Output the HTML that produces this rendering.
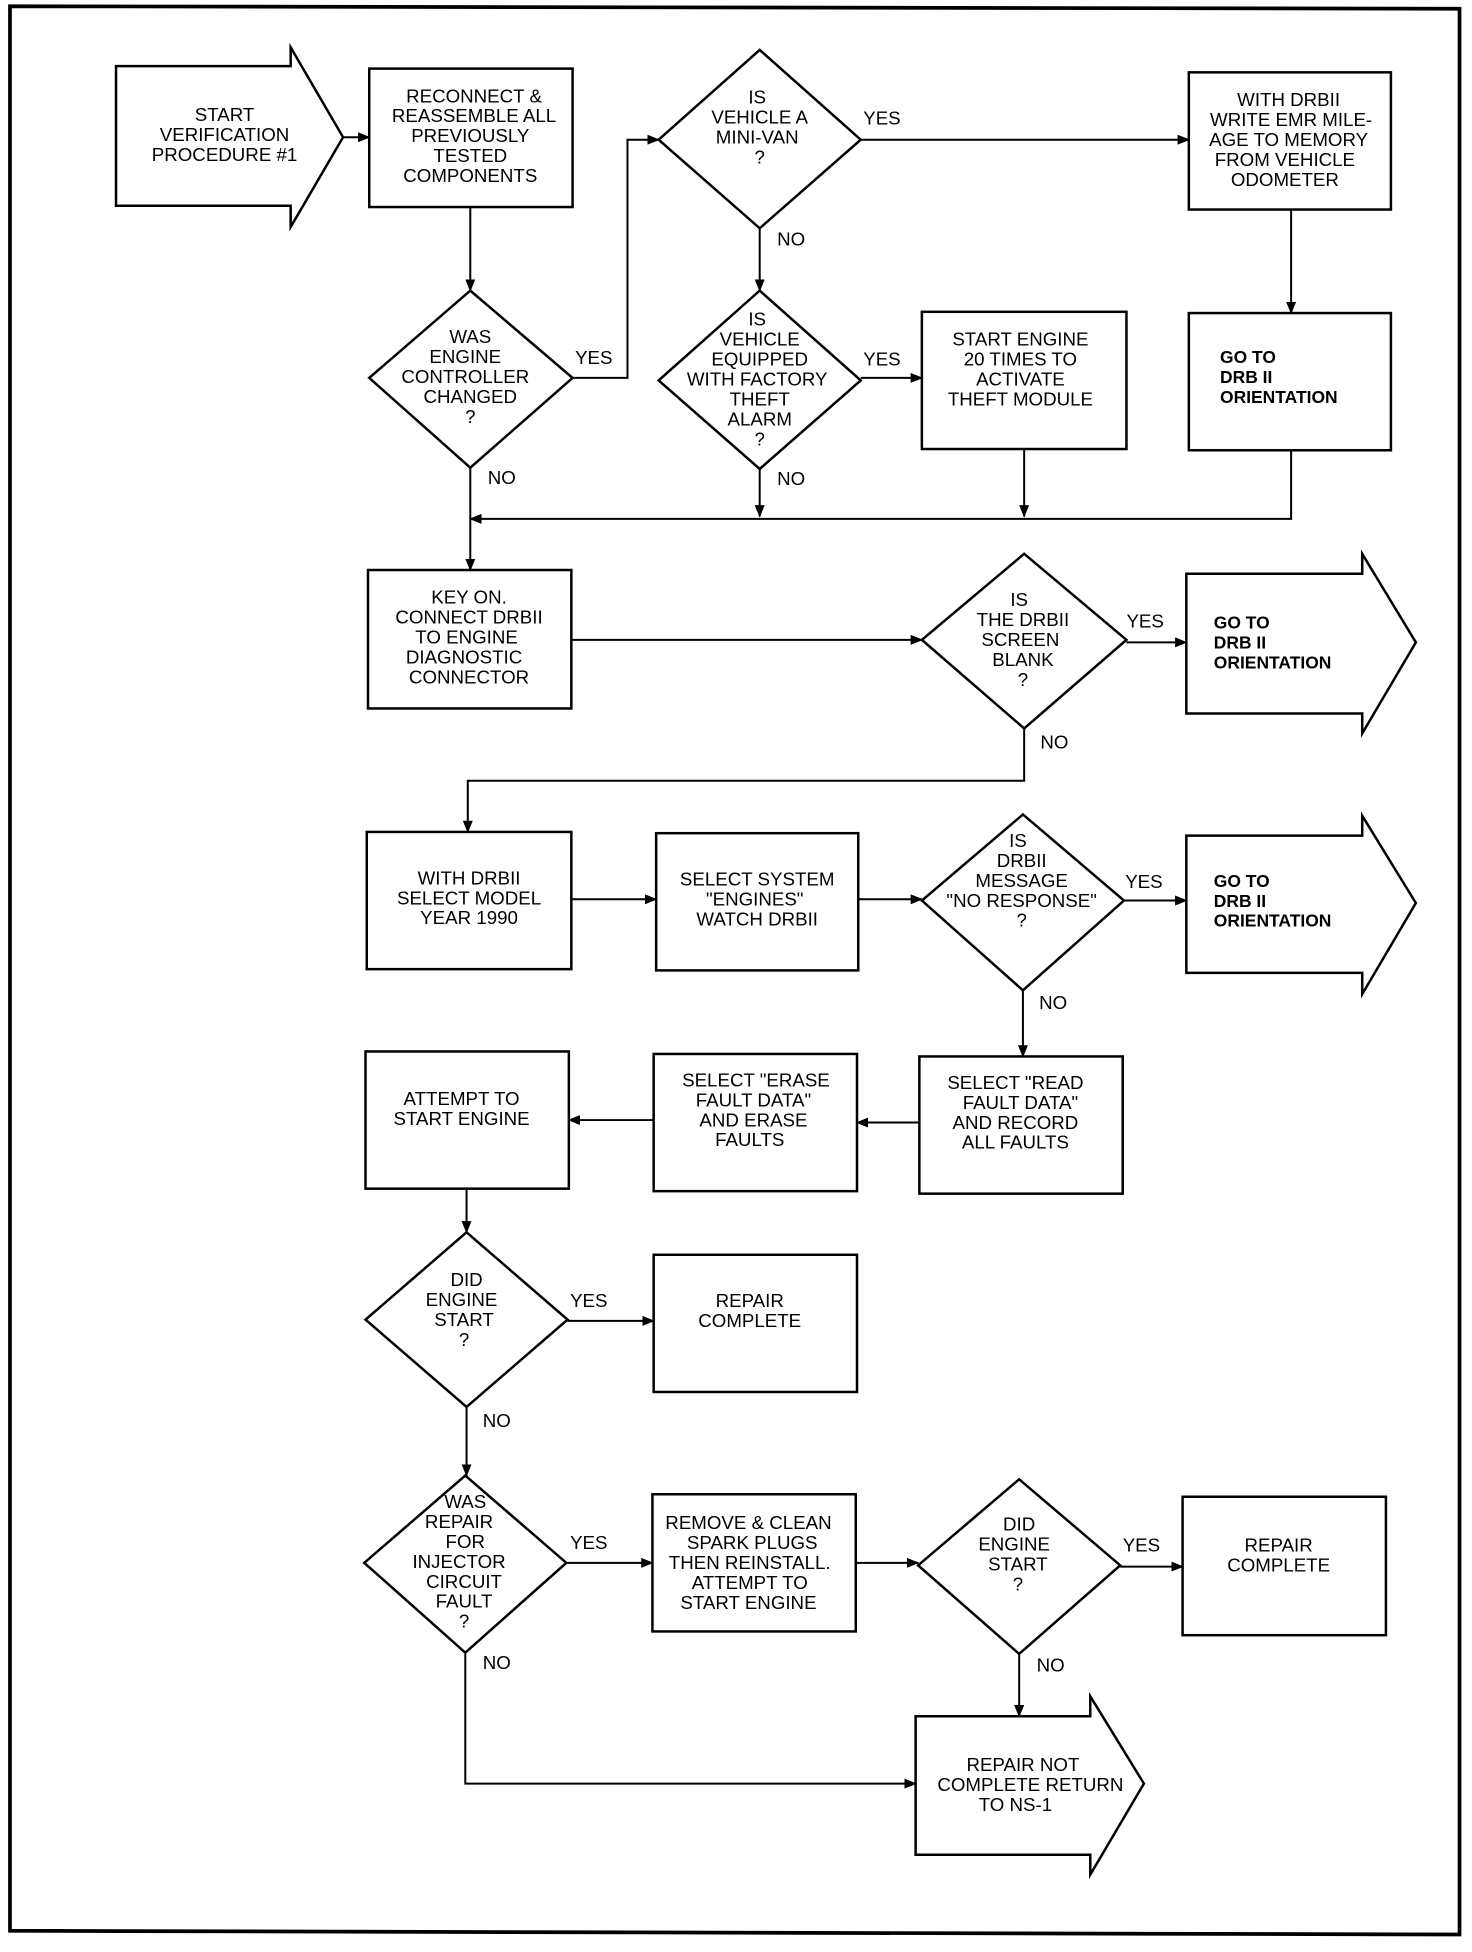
<!DOCTYPE html>
<html><head><meta charset="utf-8"><style>
html,body{margin:0;padding:0;background:#fff;}
svg{display:block;}
text{font-family:"Liberation Sans",sans-serif;font-size:15px;text-anchor:middle;fill:#000;}
.b{font-weight:bold;font-size:14px;text-anchor:start;}
.l{font-size:15px;text-anchor:start;}
</style></head><body>
<svg width="1472" height="1952" viewBox="0 0 1180 1565" preserveAspectRatio="none" xmlns="http://www.w3.org/2000/svg">
<defs><marker id="a" markerWidth="10" markerHeight="8" refX="9" refY="4" orient="auto" markerUnits="userSpaceOnUse"><path d="M0,0 L10,4 L0,8 z" fill="#000"/></marker></defs>
<g fill="none" stroke="#000" stroke-width="2">
<path d="M8,5 L1170,7 L1170,1551 L8,1548 Z" stroke-width="3"/>
<!-- start arrow -->
<path d="M93,53 L233,53 L233,38 L275,110 L233,182 L233,165 L93,165 Z"/>
<rect x="296" y="55" width="163" height="111"/>
<path d="M609,40 L690,112 L609,183 L528,112 Z"/>
<rect x="953" y="58" width="162" height="110"/>
<rect x="953" y="251" width="162" height="110"/>
<path d="M377,233 L459,303 L377,375 L296,303 Z"/>
<path d="M609,233 L690,305 L609,376 L528,305 Z"/>
<rect x="739" y="250" width="164" height="110"/>
<rect x="295" y="457" width="163" height="111"/>
<path d="M821,444 L903,513 L821,584 L739,513 Z"/>
<path d="M951,460 L1092,460 L1092,444 L1135,515 L1092,588 L1092,572 L951,572 Z"/>
<rect x="294" y="667" width="164" height="110"/>
<rect x="526" y="668" width="162" height="110"/>
<path d="M820,653 L901,722 L820,794 L739,722 Z"/>
<path d="M951,670 L1092,670 L1092,654 L1135,724 L1092,797 L1092,780 L951,780 Z"/>
<rect x="737" y="847" width="163" height="110"/>
<rect x="524" y="845" width="163" height="110"/>
<rect x="293" y="843" width="163" height="110"/>
<path d="M374,988 L455,1058 L374,1128 L293,1058 Z"/>
<rect x="524" y="1006" width="163" height="110"/>
<path d="M373,1183 L454,1253 L373,1325 L292,1253 Z"/>
<rect x="523" y="1198" width="163" height="110"/>
<path d="M817,1186 L898,1255 L817,1326 L736,1255 Z"/>
<rect x="948" y="1200" width="163" height="111"/>
<path d="M734,1376 L874,1376 L874,1360 L917,1430 L874,1503 L874,1487 L734,1487 Z"/>
</g>
<g fill="none" stroke="#000" stroke-width="1.6" marker-end="url(#a)">
<path d="M275,110 L296,110"/>
<path d="M690,112 L953,112"/>
<path d="M1035,168 L1035,251"/>
<path d="M377,166 L377,233"/>
<path d="M459,303 L503,303 L503,112 L528,112"/>
<path d="M377,375 L377,457"/>
<path d="M609,183 L609,233"/>
<path d="M690,303 L739,303"/>
<path d="M609,376 L609,414"/>
<path d="M821,360 L821,414"/>
<path d="M1035,361 L1035,416 L377,416"/>
<path d="M458,513 L739,513"/>
<path d="M903,515 L951,515"/>
<path d="M821,584 L821,626 L375,626 L375,667"/>
<path d="M458,721 L526,721"/>
<path d="M688,721 L739,721"/>
<path d="M901,722 L951,722"/>
<path d="M820,794 L820,847"/>
<path d="M737,900 L687,900"/>
<path d="M524,898 L456,898"/>
<path d="M374,953 L374,988"/>
<path d="M455,1059 L524,1059"/>
<path d="M374,1128 L374,1183"/>
<path d="M454,1253 L523,1253"/>
<path d="M686,1253 L736,1253"/>
<path d="M898,1256 L948,1256"/>
<path d="M817,1326 L817,1376"/>
<path d="M373,1325 L373,1430 L734,1430"/>
</g>
<text x="180" y="97">START</text><text x="180" y="113">VERIFICATION</text><text x="180" y="129">PROCEDURE #1</text>
<text x="380" y="82">RECONNECT &amp;</text><text x="380" y="98">REASSEMBLE ALL</text><text x="377" y="114">PREVIOUSLY</text><text x="377" y="130">TESTED</text><text x="377" y="146">COMPONENTS</text>
<text x="607" y="83">IS</text><text x="609" y="99">VEHICLE A</text><text x="607" y="115">MINI-VAN</text><text x="609" y="131">?</text>
<text class="l" x="692" y="100">YES</text><text class="l" x="623" y="197">NO</text>
<text x="1033" y="85">WITH DRBII</text><text x="1035" y="101">WRITE EMR MILE-</text><text x="1033" y="117">AGE TO MEMORY</text><text x="1030" y="133">FROM VEHICLE</text><text x="1030" y="149">ODOMETER</text>
<text class="b" x="978" y="291">GO TO</text><text class="b" x="978" y="307">DRB II</text><text class="b" x="978" y="323">ORIENTATION</text>
<text x="377" y="275">WAS</text><text x="373" y="291">ENGINE</text><text x="373" y="307">CONTROLLER</text><text x="377" y="323">CHANGED</text><text x="377" y="339">?</text>
<text class="l" x="461" y="292">YES</text><text class="l" x="391" y="388">NO</text>
<text x="607" y="261">IS</text><text x="609" y="277">VEHICLE</text><text x="609" y="293">EQUIPPED</text><text x="607" y="309">WITH FACTORY</text><text x="609" y="325">THEFT</text><text x="609" y="341">ALARM</text><text x="609" y="357">?</text>
<text class="l" x="692" y="293">YES</text><text class="l" x="623" y="389">NO</text>
<text x="818" y="277">START ENGINE</text><text x="818" y="293">20 TIMES TO</text><text x="818" y="309">ACTIVATE</text><text x="818" y="325">THEFT MODULE</text>
<text x="376" y="484">KEY ON.</text><text x="376" y="500">CONNECT DRBII</text><text x="374" y="516">TO ENGINE</text><text x="372" y="532">DIAGNOSTIC</text><text x="376" y="548">CONNECTOR</text>
<text x="817" y="486">IS</text><text x="820" y="502">THE DRBII</text><text x="818" y="518">SCREEN</text><text x="820" y="534">BLANK</text><text x="820" y="550">?</text>
<text class="l" x="903" y="503">YES</text><text class="l" x="834" y="600">NO</text>
<text class="b" x="973" y="504">GO TO</text><text class="b" x="973" y="520">DRB II</text><text class="b" x="973" y="536">ORIENTATION</text>
<text x="376" y="709">WITH DRBII</text><text x="376" y="725">SELECT MODEL</text><text x="376" y="741">YEAR 1990</text>
<text x="607" y="710">SELECT SYSTEM</text><text x="605" y="726">"ENGINES"</text><text x="607" y="742">WATCH DRBII</text>
<text x="816" y="679">IS</text><text x="819" y="695">DRBII</text><text x="819" y="711">MESSAGE</text><text x="819" y="727">"NO RESPONSE"</text><text x="819" y="743">?</text>
<text class="l" x="902" y="712">YES</text><text class="l" x="833" y="809">NO</text>
<text class="b" x="973" y="711">GO TO</text><text class="b" x="973" y="727">DRB II</text><text class="b" x="973" y="743">ORIENTATION</text>
<text x="814" y="873">SELECT "READ</text><text x="818" y="889">FAULT DATA"</text><text x="814" y="905">AND RECORD</text><text x="814" y="921">ALL FAULTS</text>
<text x="606" y="871">SELECT "ERASE</text><text x="604" y="887">FAULT DATA"</text><text x="604" y="903">AND ERASE</text><text x="601" y="919">FAULTS</text>
<text x="370" y="886">ATTEMPT TO</text><text x="370" y="902">START ENGINE</text>
<text x="374" y="1031">DID</text><text x="370" y="1047">ENGINE</text><text x="372" y="1063">START</text><text x="372" y="1079">?</text>
<text class="l" x="457" y="1048">YES</text><text class="l" x="387" y="1144">NO</text>
<text x="601" y="1048">REPAIR</text><text x="601" y="1064">COMPLETE</text>
<text x="373" y="1209">WAS</text><text x="368" y="1225">REPAIR</text><text x="373" y="1241">FOR</text><text x="368" y="1257">INJECTOR</text><text x="372" y="1273">CIRCUIT</text><text x="372" y="1289">FAULT</text><text x="372" y="1305">?</text>
<text class="l" x="457" y="1242">YES</text><text class="l" x="387" y="1338">NO</text>
<text x="600" y="1226">REMOVE &amp; CLEAN</text><text x="603" y="1242">SPARK PLUGS</text><text x="601" y="1258">THEN REINSTALL.</text><text x="601" y="1274">ATTEMPT TO</text><text x="600" y="1290">START ENGINE</text>
<text x="817" y="1227">DID</text><text x="813" y="1243">ENGINE</text><text x="816" y="1259">START</text><text x="816" y="1275">?</text>
<text class="l" x="900" y="1244">YES</text><text class="l" x="831" y="1340">NO</text>
<text x="1025" y="1244">REPAIR</text><text x="1025" y="1260">COMPLETE</text>
<text x="820" y="1420">REPAIR NOT</text><text x="826" y="1436">COMPLETE RETURN</text><text x="814" y="1452">TO NS-1</text>
</svg>
</body></html>
